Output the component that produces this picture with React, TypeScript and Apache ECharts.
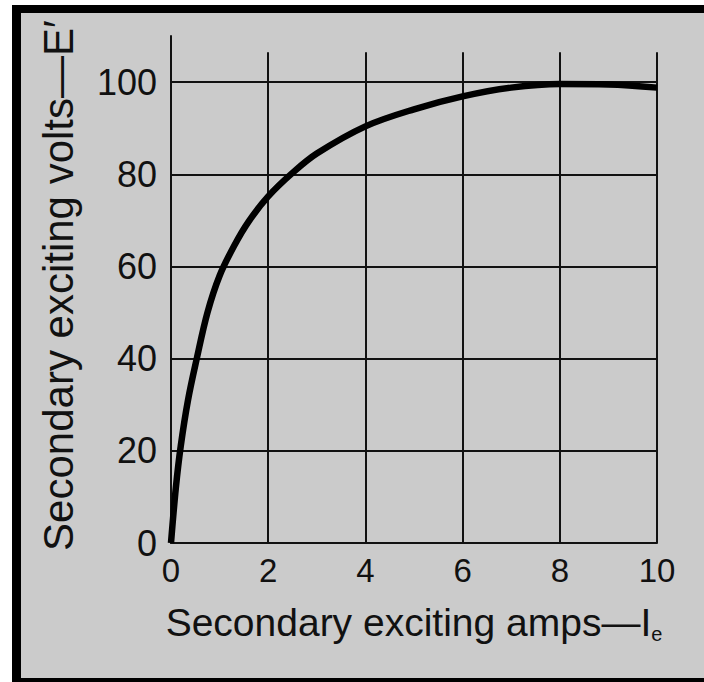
import React, { useEffect, useRef } from "react";
import * as echarts from "echarts";

const ampsValues = [0, 0.1, 0.2, 0.35, 0.53, 0.75, 1.0, 1.3, 1.6, 2, 2.5, 3, 4, 5, 6, 7, 8, 9, 10];
const voltsValues = [0, 12, 21, 31, 40, 50, 58, 64.5, 69.8, 75.2, 80.3, 84.5, 90.4, 94.1, 96.9, 98.8, 99.6, 99.5, 98.8];
const yGridValues = [20, 40, 60, 80, 100];
const xGridValues = [2, 4, 6, 8, 10];
const xTop = 106.5;
const xMin = 0, xMax = 10, xInterval = 2;
const yMin = 0, yMax = 110, yInterval = 20;

const FONT = '"Liberation Sans", Arial, Helvetica, sans-serif';

export default function App() {
  const ref = useRef<HTMLDivElement>(null);
  useEffect(() => {
    if (!ref.current) return;
    const chart = echarts.init(ref.current, null, { renderer: "svg" });
    const gridLineStyle = { color: "#111", width: 2, type: "solid" as const };
    const markData: any[] = [];
    yGridValues.forEach((v) => markData.push([{ coord: [xMin, v] }, { coord: [xMax, v] }]));
    xGridValues.forEach((v) => markData.push([{ coord: [v, yMin] }, { coord: [v, xTop] }]));
    chart.setOption({
      animation: false,
      backgroundColor: "transparent",
      grid: { left: 171, top: 36, width: 486, height: 507, containLabel: false, outerBoundsMode: "none" },
      xAxis: {
        type: "value",
        min: xMin,
        max: xMax,
        interval: xInterval,
        axisLine: { show: true, onZero: false, lineStyle: { color: "#111", width: 2 } },
        axisTick: { show: false },
        splitLine: { show: false },
        axisLabel: { fontSize: 33, color: "#111", fontFamily: FONT, margin: 11 },
        name: "{a|Secondary exciting amps—I}{b|e}",
        nameLocation: "middle",
        nameGap: 57,
        nameTextStyle: {
          color: "#111",
          fontFamily: FONT,
          rich: {
            a: { fontSize: 39, color: "#111", fontFamily: FONT },
            b: { fontSize: 20, color: "#111", fontFamily: FONT, padding: [24, 0, 0, 0] },
          },
        },
      },
      yAxis: {
        type: "value",
        min: yMin,
        max: yMax,
        interval: yInterval,
        axisLine: { show: true, lineStyle: { color: "#111", width: 2 } },
        axisTick: { show: false },
        splitLine: { show: false },
        axisLabel: {
          fontSize: 36,
          color: "#111",
          fontFamily: FONT,
          margin: 14,
          formatter: (v: number) => (v > 100 ? "" : String(v)),
        },
        name: "Secondary exciting volts—E′",
        nameLocation: "middle",
        nameGap: 92,
        nameTextStyle: { fontSize: 42, color: "#111", fontFamily: FONT, padding: [0, 0, 0, 8] },
      },
      series: [
        {
          type: "line",
          data: ampsValues.map((a, i) => [a, voltsValues[i]]),
          smooth: 0.35,
          showSymbol: false,
          symbol: "none",
          z: 3,
          lineStyle: { color: "#000", width: 6.5, cap: "butt", join: "round" },
          markLine: {
            silent: true,
            z: 1,
            symbol: "none",
            label: { show: false },
            lineStyle: gridLineStyle,
            emphasis: { disabled: true },
            data: markData,
          },
        },
      ],
    });
    return () => chart.dispose();
  }, []);
  return (
    <div style={{ position: "fixed", left: 0, top: 0, width: 704, height: 682, background: "#fff", overflow: "hidden" }}>
      <div
        style={{
          position: "absolute",
          left: 12,
          top: 5,
          right: 0,
          bottom: 0,
          background: "#cbcbcb",
          borderLeft: "9px solid #000",
          borderTop: "8px solid #000",
          borderBottom: "4px solid #000",
          boxSizing: "border-box",
        }}
      />
      <div ref={ref} style={{ position: "absolute", left: 0, top: 0, width: 704, height: 682 }} />
    </div>
  );
}
